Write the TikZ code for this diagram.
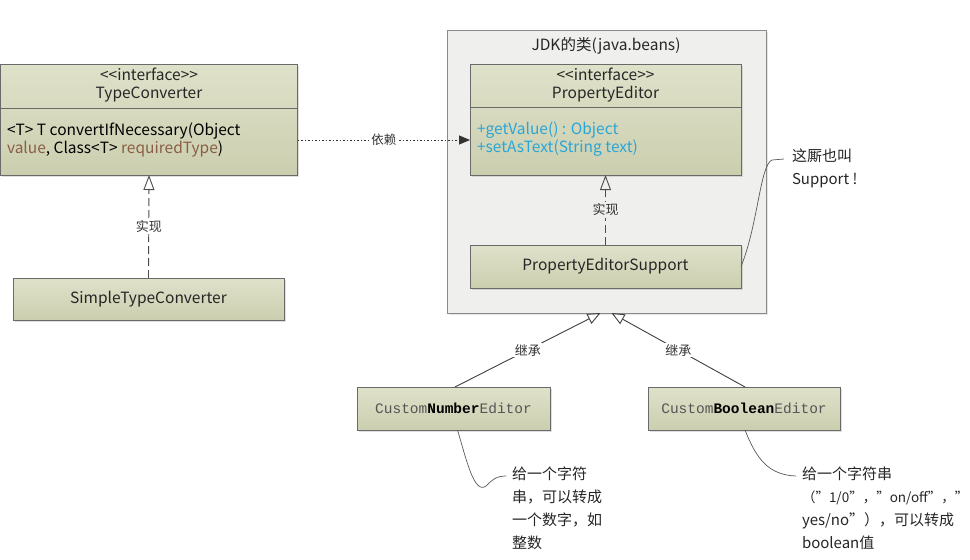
\documentclass[tikz,border=0pt]{standalone}
\usepackage{fontspec}
\setmainfont{Noto Sans CJK SC}
\newfontfamily\monofont{Liberation Mono}
\usetikzlibrary{arrows.meta,shadows}
\definecolor{boxtop}{HTML}{DFE2CA}
\definecolor{boxbot}{HTML}{CBCEAE}
\definecolor{boxline}{HTML}{6A6A6A}
\definecolor{jdkfill}{HTML}{EFEFED}
\definecolor{jdkline}{HTML}{8A8A8A}
\definecolor{brn}{HTML}{8A5E45}
\definecolor{cyanish}{HTML}{2AA6D6}
\definecolor{monogrey}{HTML}{555555}
\definecolor{notegrey}{HTML}{5A5A5A}
\begin{document}
\begin{tikzpicture}[x=1pt,y=-1pt,
  every node/.style={inner sep=0pt, outer sep=0pt},
  cls/.style={draw=boxline, line width=0.8pt, top color=boxtop, bottom color=boxbot,
    drop shadow={opacity=0.25, shadow xshift=1.5pt, shadow yshift=-1.5pt}},
  container/.style={draw=jdkline, line width=0.8pt, fill=jdkfill,
    drop shadow={opacity=0.2, shadow xshift=1.5pt, shadow yshift=-1.5pt}},
  ctext/.style={font=\fontsize{15.5}{18}\selectfont, align=center, text=black!85},
  btext/.style={font=\fontsize{15.5}{18}\selectfont, align=left, anchor=west},
  mtext/.style={font=\monofont\fontsize{14.5}{17}\selectfont, text=monogrey},
  lbl/.style={font=\fontsize{13}{15}\selectfont, text=black!80, inner sep=1.5pt},
  notetext/.style={font=\fontsize{15}{23}\selectfont, align=left, anchor=north west, text=black!85},
  realize/.style={draw=black!70, line width=0.9pt, dash pattern=on 8pt off 4pt,
    -{Triangle[open, length=15pt, width=11pt, line width=0.9pt]}},
  inherit/.style={draw=black!75, line width=0.9pt,
    -{Triangle[open, length=13pt, width=11pt, line width=0.9pt]}},
  depend/.style={draw=black!80, line width=1pt, dash pattern=on 1.5pt off 2pt,
    -{Triangle[length=11pt, width=9pt]}},
  noteline/.style={draw=notegrey, line width=0.7pt}
]
\useasboundingbox[fill=white] (0,0) rectangle (970,560);

% JDK container
\node[container, minimum width=319pt, minimum height=283pt] (jdk) at (606.5,171.5) {};
\node[ctext] (jdkt) at (606,46) {JDK的类(java.beans)};

% TypeConverter
\node[cls, minimum width=297pt, minimum height=111pt] (tc) at (149,119.5) {};
\draw[boxline, line width=0.8pt] (tc.north west) ++(0,44) -- ++(297,0);
\node[ctext] (tch) at (149,85) {<{}<interface>{}>\\TypeConverter};
\node[btext] (tcb) at (7,140) {<T> T convertIfNecessary(Object\\\textcolor{brn}{value}, Class<T> \textcolor{brn}{requiredType})};

% SimpleTypeConverter
\node[cls, minimum width=271pt, minimum height=42pt] (stc) at (148.5,299) {};
\node[ctext] (stct) at (148.5,299) {SimpleTypeConverter};

% PropertyEditor
\node[cls, minimum width=271pt, minimum height=111pt] (pe) at (605.5,119.5) {};
\draw[boxline, line width=0.8pt] (pe.north west) ++(0,43) -- ++(271,0);
\node[ctext] (peh) at (605.5,85) {<{}<interface>{}>\\PropertyEditor};
\node[btext, text=cyanish] (peb) at (477,139) {+getValue() : Object\\+setAsText(String text)};

% PropertyEditorSupport
\node[cls, minimum width=271pt, minimum height=43pt] (pes) at (605.5,266.5) {};
\node[ctext] (pest) at (605.5,266) {PropertyEditorSupport};

% Custom editors
\node[cls, minimum width=193pt, minimum height=43pt] (cne) at (453.5,408.5) {};
\node[mtext] (cnet) at (453.5,408.5) {Custom\textbf{\textcolor{black}{Number}}Editor};
\node[cls, minimum width=192pt, minimum height=43pt] (cbe) at (744,408.5) {};
\node[mtext] (cbet) at (744,408.5) {Custom\textbf{\textcolor{black}{Boolean}}Editor};

% realizations
\draw[realize] (stc.north) -- (tc.south) node[lbl, midway, fill=white] (r1) {实现};
\draw[realize] (pes.north) -- (pe.south) node[lbl, midway, fill=jdkfill] (r2) {实现};

% dependency
\draw[depend] ([yshift=-20.5pt]tc.east) -- ([yshift=-20.5pt]pe.west)
  node[lbl, midway, fill=white, font=\fontsize{12.5}{14}\selectfont] (d1) {依赖};

% inheritance
\draw[inherit] ([xshift=1.5pt]cne.north) -- ([xshift=-6pt]jdk.south)
  node[lbl, pos=0.5, fill=white] (i1) {继承};
\draw[inherit] ([xshift=1pt]cbe.north) -- ([xshift=5pt]jdk.south)
  node[lbl, pos=0.5, fill=white] (i2) {继承};

% note: Support
\node[notetext] (n1) at (792,149) {这厮也叫\\Support !};
\draw[noteline] (pes.east) .. controls (758,225) and (760,165) .. (772,160) -- ([xshift=-8pt]n1.north west |- 0,159);

% note: number
\node[notetext] (n2) at (512,467) {给一个字符\\串，可以转成\\一个数字，如\\整数};
\draw[noteline] ([xshift=4pt]cne.south) .. controls (466,458) and (474,495) .. (486,486)
  .. controls (492,480) and (496,476) .. ([xshift=-6pt]n2.north west |- 0,476);

% note: boolean
\node[notetext] (n3) at (802,467) {给一个字符串\\{\fontsize{13.5}{23}\selectfont（”1/0”，”on/off”，”}\\yes/no”），可以转成\\boolean值};
\draw[noteline] ([xshift=1pt]cbe.south) .. controls (756,458) and (768,475) .. ([xshift=-6pt]n3.north west |- 0,476);
\end{tikzpicture}
\end{document}
